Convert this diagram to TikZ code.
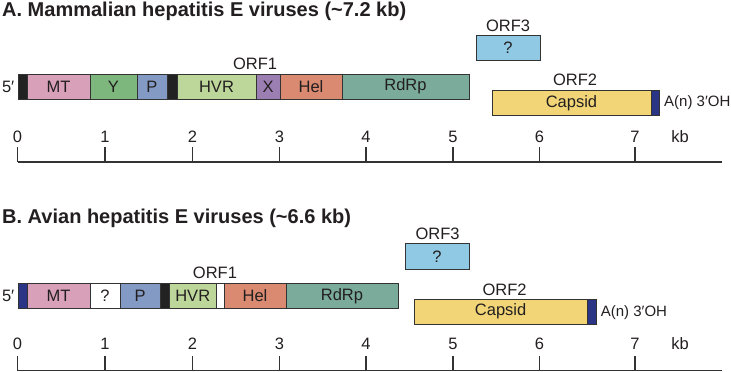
\documentclass[tikz,border=0pt]{standalone}
\usepackage{fontspec}
\setmainfont{Liberation Sans}
\definecolor{ink}{HTML}{231F20}
\definecolor{edge}{HTML}{333333}
\definecolor{blk}{HTML}{222222}
\definecolor{dblue}{HTML}{2B3585}
\definecolor{mtc}{HTML}{D9A1B9}
\definecolor{yc}{HTML}{7DB77D}
\definecolor{pc}{HTML}{839AC4}
\definecolor{hvrc}{HTML}{BDD79A}
\definecolor{xc}{HTML}{9B7FB3}
\definecolor{helc}{HTML}{D98A71}
\definecolor{rdrpc}{HTML}{7AAB9B}
\definecolor{orf3c}{HTML}{90C9E3}
\definecolor{capc}{HTML}{F2D577}
\tikzset{
  seg/.style={draw=edge, line width=0.9pt, inner sep=0pt, outer sep=0pt, anchor=north west, text=ink, font=\fontsize{16.5}{16.5}\selectfont},
  lbl/.style={inner sep=0pt, text=ink, font=\fontsize{16.5}{16.5}\selectfont},
  small/.style={inner sep=0pt, text=ink, font=\fontsize{15}{15}\selectfont},
  ttl/.style={inner sep=0pt, anchor=west, text=ink, font=\fontsize{20}{20}\selectfont\bfseries},
  axisline/.style={draw=edge, line width=1.3pt},
}
\begin{document}
\begin{tikzpicture}[x=1pt,y=-1pt]
\useasboundingbox (0,0) rectangle (731,372);

% ---------------- Panel A ----------------
\node[ttl] (titleA) at (2,11.5) {A. Mammalian hepatitis E viruses (\char`\~7.2 kb)};
\node[lbl, anchor=east] (fiveA) at (14.5,87) {5′};
\node[seg, fill=blk, minimum width=9pt, minimum height=25pt] (blkA1) at (18,74) {};
\node[seg, fill=mtc, minimum width=63pt, minimum height=25pt] (mtA) at (27,74) {MT};
\node[seg, fill=yc, minimum width=47pt, minimum height=25pt] (yA) at (90,74) {Y};
\node[seg, fill=pc, minimum width=30pt, minimum height=25pt] (pA) at (137,74) {P};
\node[seg, fill=blk, minimum width=10pt, minimum height=25pt] (blkA2) at (167,74) {};
\node[seg, fill=hvrc, minimum width=79pt, minimum height=25pt] (hvrA) at (177,74) {HVR};
\node[seg, fill=xc, minimum width=24pt, minimum height=25pt] (xA) at (256,74) {X};
\node[seg, fill=helc, minimum width=62pt, minimum height=25pt] (helA) at (280,74) {Hel};
\node[seg, fill=rdrpc, minimum width=127pt, minimum height=25pt] (rdrpA) at (342,74) {RdRp};
\node[lbl] (orf1A) at (255,63.5) {ORF1};

\node[lbl] (orf3A) at (508,26) {ORF3};
\node[seg, fill=orf3c, minimum width=64pt, minimum height=25pt] (q3A) at (476,35) {?};

\node[lbl] (orf2A) at (575,79.7) {ORF2};
\node[seg, fill=capc, minimum width=159pt, minimum height=25.7pt] (capA) at (492,90) {Capsid};
\node[seg, fill=dblue, minimum width=8pt, minimum height=25.7pt] (polyA) at (651,90) {};
\node[small, anchor=west] (threeA) at (664,103) {A(n) 3′OH};

% axis A
\coordinate (axAs) at (17.5,162);
\coordinate (axAe) at (722,162);
\draw[axisline] (axAs) -- (axAe);
\foreach \x/\t in {17.5/0,105/1,192.5/2,279.5/3,366/4,453/5,539.5/6,635/7}{
  \draw[axisline] (\x,147) -- (\x,162);
  \node[lbl] at (\x,137) {\t};
}
\node[lbl] (kbA) at (680,137) {kb};

% ---------------- Panel B ----------------
\node[ttl] (titleB) at (2,218.3) {B. Avian hepatitis E viruses (\char`\~6.6 kb)};
\node[lbl, anchor=east] (fiveB) at (14.5,296) {5′};
\node[seg, fill=dblue, minimum width=9pt, minimum height=25pt] (blkB1) at (18,283.3) {};
\node[seg, fill=mtc, minimum width=63pt, minimum height=25pt] (mtB) at (27,283.3) {MT};
\node[seg, fill=white, minimum width=30pt, minimum height=25pt] (qB) at (90,283.3) {?};
\node[seg, fill=pc, minimum width=40.5pt, minimum height=25pt] (pB) at (120,283.3) {P};
\node[seg, fill=blk, minimum width=9pt, minimum height=25pt] (blkB2) at (160.5,283.3) {};
\node[seg, fill=hvrc, minimum width=46.5pt, minimum height=25pt] (hvrB) at (169.5,283.3) {HVR};
\node[seg, fill=white, minimum width=8pt, minimum height=25pt] (wB) at (216,283.3) {};
\node[seg, fill=helc, minimum width=62pt, minimum height=25pt] (helB) at (224,283.3) {Hel};
\node[seg, fill=rdrpc, minimum width=112pt, minimum height=25pt] (rdrpB) at (286,283.3) {RdRp};
\node[lbl] (orf1B) at (215,272.8) {ORF1};

\node[lbl] (orf3B) at (437.5,234) {ORF3};
\node[seg, fill=orf3c, minimum width=64pt, minimum height=25.3pt] (q3B) at (405,243.7) {?};

\node[lbl] (orf2B) at (504.5,290) {ORF2};
\node[seg, fill=capc, minimum width=173.3pt, minimum height=25.3pt] (capB) at (414,299) {Capsid};
\node[seg, fill=dblue, minimum width=8.7pt, minimum height=25.3pt] (polyB) at (587.3,299) {};
\node[small, anchor=west] (threeB) at (600.7,312.5) {A(n) 3′OH};

% axis B
\coordinate (axBs) at (17.5,370.7);
\coordinate (axBe) at (722,370.7);
\draw[axisline] (axBs) -- (axBe);
\foreach \x/\t in {17.5/0,105/1,192.5/2,279.5/3,366/4,453/5,539.5/6,635/7}{
  \draw[axisline] (\x,356) -- (\x,370.7);
  \node[lbl] at (\x,344) {\t};
}
\node[lbl] (kbB) at (680,344) {kb};
\end{tikzpicture}
\end{document}
